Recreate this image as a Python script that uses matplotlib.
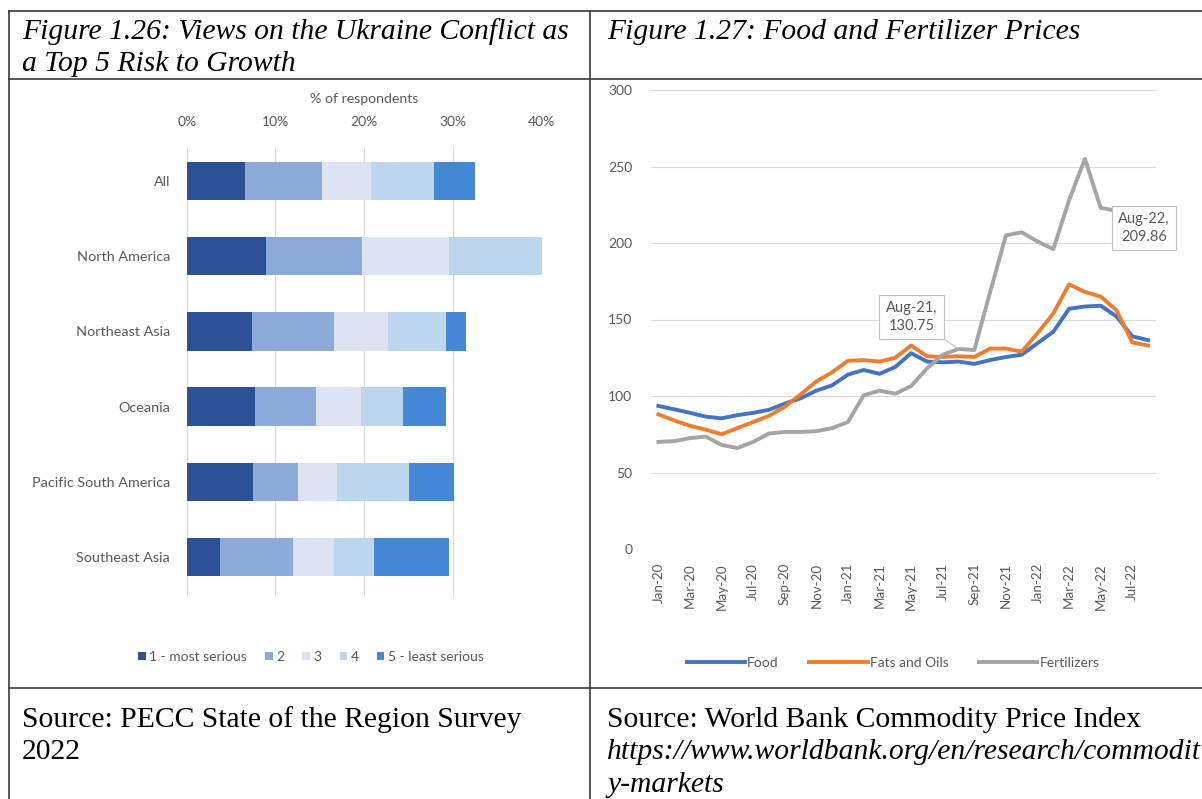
import matplotlib.pyplot as plt
from matplotlib.lines import Line2D
import numpy as np

W, H = 1202, 799

# survey shares (% of respondents) by seriousness rank
regions = ["All", "North America", "Northeast Asia", "Oceania",
           "Pacific South America", "Southeast Asia"]
rank_labels = ["1 - most serious", "2", "3", "4", "5 - least serious"]
rank1 = [6.6, 8.9, 7.4, 7.7, 7.5, 3.7]
rank2 = [8.6, 10.8, 9.2, 6.9, 5.0, 8.3]
rank3 = [5.6, 9.9, 6.1, 5.0, 4.4, 4.6]
rank4 = [7.1, 10.6, 6.5, 4.8, 8.2, 4.5]
rank5 = [4.6, 0.0, 2.3, 4.8, 5.0, 8.4]
rank_colors = ["#2b5196", "#8eaadb", "#dde3f3", "#bcd6ee", "#4589d6"]

# commodity price indices, Jan-20 .. Aug-22
months = ["Jan-20", "Feb-20", "Mar-20", "Apr-20", "May-20", "Jun-20", "Jul-20", "Aug-20",
          "Sep-20", "Oct-20", "Nov-20", "Dec-20", "Jan-21", "Feb-21", "Mar-21", "Apr-21",
          "May-21", "Jun-21", "Jul-21", "Aug-21", "Sep-21", "Oct-21", "Nov-21", "Dec-21",
          "Jan-22", "Feb-22", "Mar-22", "Apr-22", "May-22", "Jun-22", "Jul-22", "Aug-22"]
food = [93.5, 91.3, 89.0, 86.5, 85.4, 87.5, 89.0, 91.0, 95.0, 98.5, 103.5, 107.0,
        114.0, 117.0, 114.5, 119.0, 128.0, 122.5, 122.0, 122.5, 121.0, 123.5, 125.5, 127.0,
        134.5, 142.0, 157.0, 158.5, 159.0, 152.0, 139.0, 136.5]
fats_oils = [88.0, 84.0, 80.5, 78.0, 75.0, 79.0, 83.0, 87.0, 93.0, 101.0, 109.5, 115.5,
             123.0, 123.5, 122.5, 125.0, 133.0, 126.0, 125.5, 126.0, 125.5, 131.0, 131.0, 129.0,
             141.0, 154.0, 173.0, 168.0, 165.0, 156.0, 135.0, 133.0]
fertilizers = [70.0, 70.5, 72.5, 73.5, 68.0, 66.0, 70.0, 75.5, 76.5, 76.5, 77.0, 79.0,
               83.0, 100.5, 103.5, 101.5, 106.5, 118.0, 127.0, 130.75, 130.0, 168.0, 205.0, 207.0,
               201.0, 196.0, 228.0, 255.0, 223.0, 221.0, 213.0, 209.86]
labelled_months = ["Aug-21", "Aug-22"]

plt.rcParams["font.family"] = ["Lato", "DejaVu Sans"]
txt = "#595959"
grid = "#d9d9d9"

fig = plt.figure(figsize=(W / 100, H / 100), dpi=100)


def px_axes(left, top, right, bottom):
    return fig.add_axes([left / W, 1 - bottom / H, (right - left) / W, (bottom - top) / H])


def fx(x):
    return x / W


def fy(y):
    return 1 - y / H


# table frame
frame = dict(color="#3a3a3a", lw=1.2)
for y in (11, 79, 688):
    fig.add_artist(Line2D([fx(9), fx(1202)], [fy(y), fy(y)], **frame))
for x in (9, 590):
    fig.add_artist(Line2D([fx(x), fx(x)], [fy(11), fy(799)], **frame))

serif = ["Liberation Serif", "DejaVu Serif"]
fs = 21.3
fig.text(fx(22), fy(32), "Figure 1.26: Views on the Ukraine Conflict as", family=serif,
         style="italic", fontsize=fs, va="center")
fig.text(fx(22), fy(64), "a Top 5 Risk to Growth", family=serif,
         style="italic", fontsize=fs, va="center")
fig.text(fx(607), fy(32), "Figure 1.27: Food and Fertilizer Prices", family=serif,
         style="italic", fontsize=fs, va="center")
fig.text(fx(22), fy(720), "Source: PECC State of the Region Survey", family=serif,
         fontsize=fs, va="center")
fig.text(fx(22), fy(752), "2022", family=serif, fontsize=fs, va="center")
fig.text(fx(607), fy(720), "Source: World Bank Commodity Price Index", family=serif,
         fontsize=fs, va="center")
fig.text(fx(607), fy(752), "https://www.worldbank.org/en/research/commodit", family=serif,
         style="italic", fontsize=fs, va="center")
fig.text(fx(607), fy(785), "y-markets", family=serif, style="italic", fontsize=fs, va="center")

## stacked bar chart
ax1 = px_axes(186.7, 147, 541.7, 597)
ypos = np.arange(len(regions))
left = np.zeros(len(regions))
for vals, lab, col in zip([rank1, rank2, rank3, rank4, rank5], rank_labels, rank_colors):
    ax1.barh(ypos, vals, left=left, height=0.51, color=col, label=lab, zorder=2)
    left += np.array(vals)
ax1.set_xlim(0, 40)
ax1.set_ylim(5.53, -0.45)
ax1.set_yticks(ypos, regions)
ax1.set_xticks(np.arange(0, 41, 10), [f"{v}%" for v in range(0, 41, 10)])
ax1.xaxis.tick_top()
ax1.xaxis.set_label_position("top")
ax1.set_xlabel("% of respondents", fontsize=10.2, color=txt, labelpad=9)
ax1.tick_params(axis="x", length=0, pad=14, labelsize=10, labelcolor=txt)
ax1.tick_params(axis="y", length=0, pad=12, labelsize=10.4, labelcolor=txt)
ax1.grid(axis="x", color=grid, lw=0.8, zorder=0)
for s in ax1.spines.values():
    s.set_visible(False)
ax1.legend(loc="center", bbox_to_anchor=(fx(311), fy(657)), bbox_transform=fig.transFigure,
           ncol=5, frameon=False, fontsize=10, labelcolor=txt, handlelength=0.55,
           handleheight=0.55, handletextpad=0.25, columnspacing=1.3)

## line chart
ax2 = px_axes(650.5, 90, 1156, 549)
x = np.arange(len(months))
ax2.plot(x, food, color="#4472c4", lw=2.8, label="Food", zorder=3)
ax2.plot(x, fats_oils, color="#ed7d31", lw=2.8, label="Fats and Oils", zorder=3)
ax2.plot(x, fertilizers, color="#a5a5a5", lw=2.8, label="Fertilizers", zorder=3)
ax2.set_xlim(-0.5, len(months) - 0.5)
ax2.set_ylim(0, 300)
ax2.set_yticks(np.arange(0, 301, 50))
ax2.set_xticks(x[::2], months[::2], rotation=90)
ax2.tick_params(axis="y", length=0, pad=13, labelsize=10, labelcolor=txt)
ax2.tick_params(axis="x", length=0, pad=10, labelsize=9.6, labelcolor=txt)
ax2.grid(axis="y", color=grid, lw=0.8, zorder=0)
for s in ax2.spines.values():
    s.set_visible(False)

offsets = {"Aug-21": (-34, 23), "Aug-22": (-3, 0)}
for m in labelled_months:
    i = months.index(m)
    ax2.annotate(f"{m},\n{fertilizers[i]:.2f}", xy=(i, fertilizers[i]),
                 xytext=offsets[m], textcoords="offset points", ha="center", va="center",
                 fontsize=10.5, color=txt, zorder=5, linespacing=1.3,
                 bbox=dict(boxstyle="square,pad=0.45", fc="white", ec="#bfbfbf", lw=0.8),
                 arrowprops=dict(arrowstyle="-", color="#bfbfbf", lw=0.8, shrinkA=0, shrinkB=0))

ax2.legend(loc="center", bbox_to_anchor=(fx(893), fy(663)), bbox_transform=fig.transFigure,
           ncol=3, frameon=False, fontsize=10, labelcolor=txt, handlelength=4.2,
           handletextpad=0.15, columnspacing=2.2)

fig.savefig("out.png", dpi=100)
